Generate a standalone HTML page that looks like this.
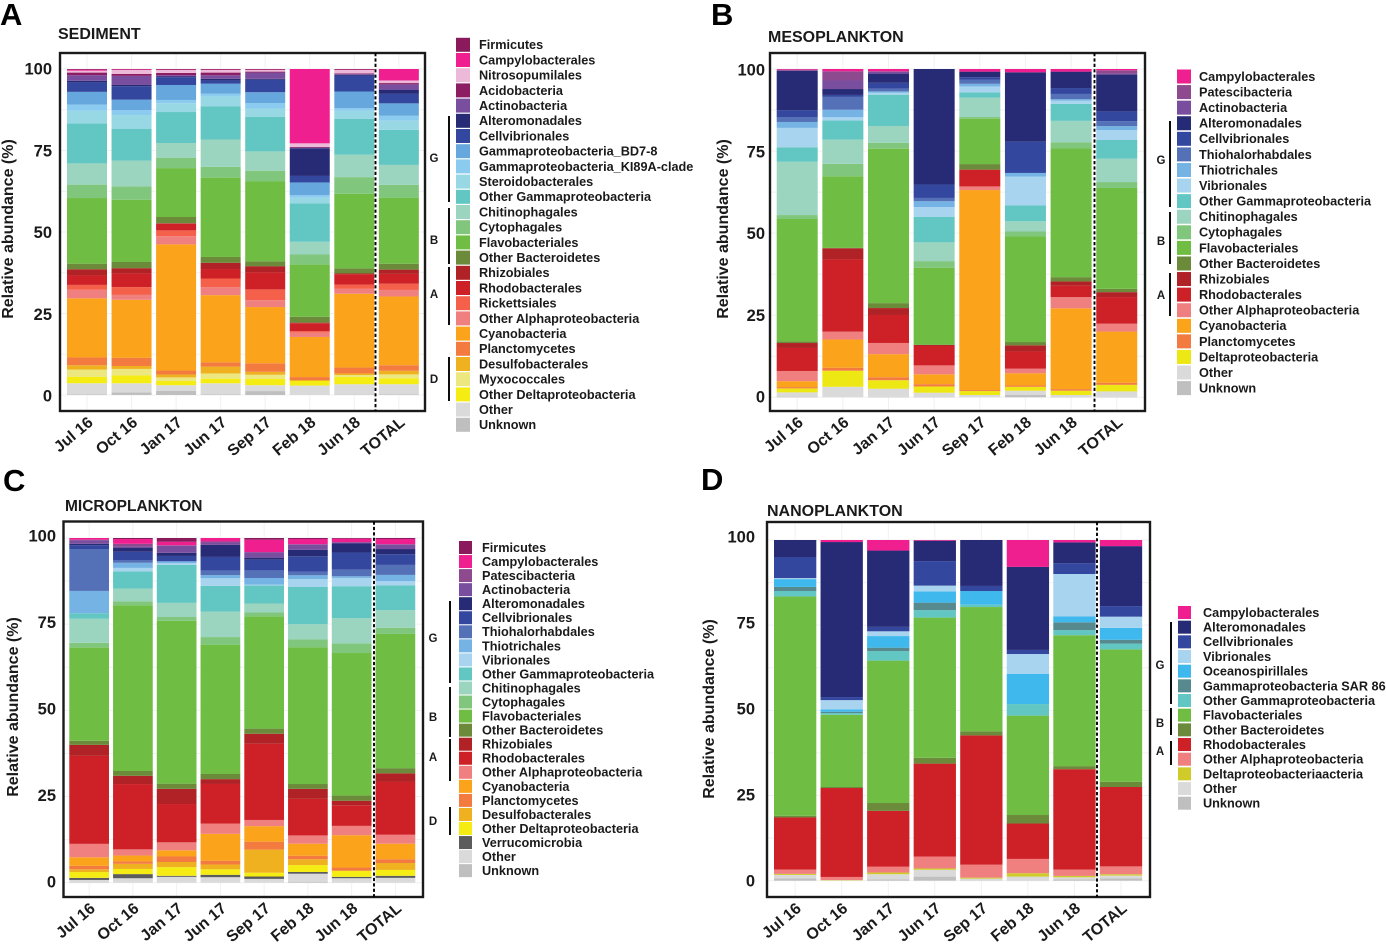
<!DOCTYPE html>
<html lang="en">
<head>
<meta charset="utf-8">
<title>Relative abundance of bacterial taxa</title>
<style>
html,body{margin:0;padding:0;background:#fff;}
#figure{display:block;width:1386px;height:946px;font-family:"Liberation Sans",Arial,sans-serif;}
text{font-family:"Liberation Sans",Arial,sans-serif;font-weight:bold;fill:#1a1a1a;}
.panel-letter{font-size:31px;fill:#000;}
.panel-title{font-size:16px;}
.axis-title{font-size:16px;}
.y-tick{font-size:16.5px;}
.x-tick{font-size:15.9px;}
.legend-label{font-size:12.7px;}
.group-label{font-size:11.5px;}
</style>
</head>
<body>
<svg id="figure" xmlns="http://www.w3.org/2000/svg" width="1386" height="946" viewBox="0 0 1386 946">
  <rect x="0" y="0" width="1386" height="946" fill="#fff"/>
  <text class="panel-letter" x="0" y="25">A</text>
  <text class="panel-letter" x="711" y="25">B</text>
  <text class="panel-letter" x="3" y="491">C</text>
  <text class="panel-letter" x="701" y="490">D</text>
  <text class="panel-title" x="58" y="39">SEDIMENT</text>
  <text class="panel-title" x="768" y="42">MESOPLANKTON</text>
  <text class="panel-title" style="font-size:15.5px" x="65" y="511">MICROPLANKTON</text>
  <text class="panel-title" x="767" y="516">NANOPLANKTON</text>
  <text class="axis-title" text-anchor="middle" transform="translate(13,229) rotate(-90)">Relative abundance (%)</text>
  <text class="axis-title" text-anchor="middle" transform="translate(728,229) rotate(-90)">Relative abundance (%)</text>
  <text class="axis-title" text-anchor="middle" transform="translate(18,707) rotate(-90)">Relative abundance (%)</text>
  <text class="axis-title" text-anchor="middle" transform="translate(714,709) rotate(-90)">Relative abundance (%)</text>
  <g id="charts"></g>
</svg>
<script>
// ---------- shared data ----------
const categories = ["Jul 16","Oct 16","Jan 17","Jun 17","Sep 17","Feb 18","Jun 18","TOTAL"];
const yTickValues = [0,25,50,75,100];
const yGridValues = [0,12.5,25,37.5,50,62.5,75,87.5,100];

// ---------- SEDIMENT (stack order: bottom to top) ----------
const sedimentTaxa = ["Unknown","Other","Other Deltaproteobacteria","Myxococcales","Desulfobacterales","Planctomycetes","Cyanobacteria","Other Alphaproteobacteria","Rickettsiales","Rhodobacterales","Rhizobiales","Other Bacteroidetes","Flavobacteriales","Cytophagales","Chitinophagales","Other Gammaproteobacteria","Steroidobacterales","Gammaproteobacteria_KI89A-clade","Gammaproteobacteria_BD7-8","Cellvibrionales","Alteromonadales","Actinobacteria","Acidobacteria","Nitrosopumilales","Campylobacterales","Firmicutes"];
const sedimentJul16 = [0.2,3.4,2.0,2.2,1.3,2.4,18.1,2.6,1.5,2.9,1.9,1.7,20.1,4.1,6.5,12.2,3.9,1.9,3.9,2.9,0.5,1.7,0.8,0.6,0.3,0.2];
const sedimentOct16 = [0.8,2.8,2.4,2.0,0.9,2.5,17.8,1.5,2.4,4.2,1.6,1.9,19.1,4.1,7.9,9.7,4.3,1.5,3.2,4.1,0.4,2.8,0.6,1.2,0.2,0.1];
const sedimentJan17 = [1.3,1.7,1.3,1.1,0.9,1.2,38.7,2.5,1.8,2.0,0.2,1.9,15.0,3.2,4.5,9.5,2.7,1.0,4.6,2.4,0.2,0.4,0.7,0.9,0.1,0.2];
const sedimentJun17 = [0.2,3.4,1.4,1.6,2.1,1.3,20.6,2.4,2.7,2.9,1.9,1.8,24.3,3.3,8.4,10.2,3.0,0.8,3.1,1.0,0.5,1.1,0.8,0.8,0.1,0.2];
const sedimentSep17 = [1.2,1.8,1.9,1.3,0.9,2.6,17.2,2.1,3.3,5.2,1.9,1.5,24.4,3.3,5.9,10.6,2.5,1.7,3.3,3.8,0.3,1.9,0.3,0.5,0.1,0.2];
const sedimentFeb18 = [0,2.9,1.4,0,0.3,0.9,12.3,1.3,0.5,2.4,0.2,1.8,16.0,3.1,3.9,11.8,1.7,0.8,3.9,2.0,8.5,0.2,0.2,1.1,22.8,0];
const sedimentJun18 = [0.1,3.2,2.2,0.6,0.5,1.8,22.6,1.5,1.3,3.2,0.2,1.6,22.8,5.1,6.9,10.9,2.5,0.8,5.1,4.8,0.3,0.3,0.2,1.0,0.1,0.2];
const sedimentTotal = [0.2,3.1,1.8,1.2,1.1,1.7,21.0,2.0,1.9,3.0,1.3,1.8,20.2,3.9,6.1,10.7,2.8,1.5,3.8,2.9,1.3,1.6,0.4,0.8,3.5,0];

// ---------- MESOPLANKTON ----------
const mesoTaxa = ["Unknown","Other","Deltaproteobacteria","Planctomycetes","Cyanobacteria","Other Alphaproteobacteria","Rhodobacterales","Rhizobiales","Other Bacteroidetes","Flavobacteriales","Cytophagales","Chitinophagales","Other Gammaproteobacteria","Vibrionales","Thiotrichales","Thiohalorhabdales","Cellvibrionales","Alteromonadales","Actinobacteria","Patescibacteria","Campylobacterales"];
const mesoJul16 = [0.2,1.3,1.2,0.4,1.8,3.1,7.0,1.5,0.5,37.2,1.2,16.2,4.4,5.9,1.8,1.4,2.2,11.9,0.1,0.3,0.2];
const mesoOct16 = [0,3.2,4.9,0.9,8.6,2.4,22.0,3.4,0.1,21.8,3.8,7.4,5.8,1.0,2.3,3.9,0.6,1.8,2.6,2.8,0.7];
const mesoJan17 = [0.1,2.5,2.6,0.9,7.0,3.4,8.5,2.1,1.5,46.9,1.8,5.1,9.5,0.6,0.4,0.8,1.8,2.8,0.5,0.2,0.7];
const mesoJun17 = [0.1,1.3,1.9,0.7,3.0,2.7,5.9,0.3,0.1,23.4,2.0,5.7,7.8,2.9,1.8,1.0,4.1,35.1,0,0,0];
const mesoSep17 = [0,0.7,1.2,0.3,60.8,1.1,5.1,0,1.7,13.8,0.5,5.9,1.6,1.8,0.8,1.2,0.8,1.7,0,0,0.8];
const mesoFeb18 = [0.7,1.3,1.2,0.4,3.7,1.4,5.2,1.9,1.0,32.1,1.5,3.1,4.8,8.8,1.1,0,9.5,21.1,0,0,1.0];
const mesoJun18 = [0.1,0.6,1.3,0.5,24.6,3.4,3.5,1.3,1.3,39.2,1.9,6.5,5.2,1.0,0.4,1.6,1.8,5.0,0,0,0.8];
const mesoTotal = [0.1,1.7,2.0,0.6,15.6,2.4,8.1,1.5,1.0,30.7,1.8,7.1,5.7,3.0,1.2,1.5,3.0,11.2,0.3,1.0,0.4];

// ---------- MICROPLANKTON ----------
const microTaxa = ["Unknown","Other","Verrucomicrobia","Other Deltaproteobacteria","Desulfobacterales","Planctomycetes","Cyanobacteria","Other Alphaproteobacteria","Rhodobacterales","Rhizobiales","Other Bacteroidetes","Flavobacteriales","Cytophagales","Chitinophagales","Other Gammaproteobacteria","Vibrionales","Thiotrichales","Thiohalorhabdales","Cellvibrionales","Alteromonadales","Actinobacteria","Patescibacteria","Campylobacterales","Firmicutes"];
const microJul16 = [0.1,0.7,0.6,1.7,0.8,1.0,2.5,3.9,25.6,3.2,1.2,27.1,1.4,7.0,1.6,0,6.5,12.2,1.1,0.4,1.0,0.2,0.5,0];
const microOct16 = [0,1.3,1.2,1.5,1.5,0.7,1.7,1.8,19.0,2.4,1.4,48.2,1.2,3.7,5.0,1.0,1.5,0.8,2.4,1.2,0.3,0.8,1.4,0.3];
const microJan17 = [0,1.7,0.3,2.5,1.5,1.6,1.8,2.3,11.1,4.4,1.5,47.2,1.1,4.1,11.0,0.5,0.5,0.1,1.5,0.9,2.0,0.2,1.0,1.1];
const microJun17 = [0,1.6,0.7,1.6,1.4,1.1,7.8,3.0,11.5,1.4,1.5,37.6,2.2,7.4,7.5,2.2,0.9,1.3,4.0,3.5,0.7,0.3,1.0,0];
const microSep17 = [0,1.1,0.7,1.1,6.7,2.3,4.5,1.8,22.1,2.9,1.5,32.5,1.2,2.6,5.2,0.3,1.9,2.2,3.1,0.6,1.6,0,3.6,0.5];
const microFeb18 = [0.3,2.3,0.5,2.0,1.7,1.0,3.5,2.4,10.6,2.9,1.4,39.6,2.3,4.4,10.8,2.3,1.1,1.0,4.5,1.9,1.5,0.1,1.5,0.3];
const microJun18 = [0,1.3,0.4,1.7,0.1,0.9,9.4,2.7,6.0,1.3,1.5,41.4,2.8,7.3,9.3,2.4,0.5,1.9,5.0,2.6,0.3,0.1,1.0,0.2];
const microTotal = [0,1.4,0.6,1.7,2.0,1.1,4.5,2.6,15.3,2.5,1.5,38.9,1.8,5.1,7.2,1.2,1.8,2.9,3.1,1.5,1.3,0.1,1.5,0.3];

// ---------- NANOPLANKTON ----------
const nanoTaxa = ["Unknown","Other","Deltaproteobacteriaacteria","Other Alphaproteobacteria","Rhodobacterales","Other Bacteroidetes","Flavobacteriales","Other Gammaproteobacteria","Gammaproteobacteria SAR 86","Oceanospirillales","Vibrionales","Cellvibrionales","Alteromonadales","Campylobacterales"];
const nanoJul16 = [0.7,1.0,0.3,1.3,15.3,0.5,64.5,1.6,1.2,2.3,0.3,6.2,5.0,0];
const nanoOct16 = [0,0.1,0.1,0.9,26.1,0.3,21.2,0.5,0.4,0.7,2.7,0.9,45.5,0.6];
const nanoJan17 = [0.4,1.5,0.5,1.7,16.4,2.3,41.8,2.8,1.0,3.4,1.4,1.3,22.4,3.1];
const nanoJun17 = [1.2,2.0,0.4,3.5,27.3,1.7,41.2,2.2,2.2,3.3,1.7,7.2,6.0,0.2];
const nanoSep17 = [0.1,0.5,0.3,3.8,38.0,1.2,36.5,0.7,0,4.0,0,1.5,13.5,0];
const nanoFeb18 = [0.1,1.1,1.0,4.2,10.4,2.5,29.2,3.4,0,8.9,5.8,1.2,24.4,7.9];
const nanoJun18 = [0.4,0.6,0.4,1.9,29.5,0.9,38.5,1.5,2.3,1.7,12.5,3.2,6.1,0.7];
const nanoTotal = [0.7,0.8,0.4,2.3,23.3,1.5,38.9,1.7,1.1,3.5,3.3,3.1,17.6,1.8];

// ---------- taxon colours ----------
const taxonColors = {
  "Firmicutes":"#8a1a5c","Campylobacterales":"#ef1f8f","Nitrosopumilales":"#ecb9d8","Acidobacteria":"#8c1d62",
  "Actinobacteria":"#7a4e9f","Patescibacteria":"#8d4a8f","Alteromonadales":"#272a75","Cellvibrionales":"#33479f",
  "Gammaproteobacteria_BD7-8":"#66a8dd","Gammaproteobacteria_KI89A-clade":"#8ccbf0","Steroidobacterales":"#97d8e4",
  "Thiohalorhabdales":"#5470b7","Thiotrichales":"#74b3e3","Vibrionales":"#a8d4f0","Oceanospirillales":"#3fb9ed",
  "Gammaproteobacteria SAR 86":"#568a8e","Other Gammaproteobacteria":"#62c6c2","Chitinophagales":"#9cd5bf",
  "Cytophagales":"#80c67c","Flavobacteriales":"#70bd44","Other Bacteroidetes":"#6b8a3a","Rhizobiales":"#b02225",
  "Rhodobacterales":"#ce2027","Rickettsiales":"#f4604a","Other Alphaproteobacteria":"#f08080","Cyanobacteria":"#fba31a",
  "Planctomycetes":"#f37b40","Desulfobacterales":"#efb11f","Myxococcales":"#ece77f","Other Deltaproteobacteria":"#f5ec14",
  "Deltaproteobacteria":"#ede713","Deltaproteobacteriaacteria":"#cfcc2a","Verrucomicrobia":"#5c5c5c","Other":"#dadada","Unknown":"#bfbfbf"
};

// ---------- panel layout (geometry only) ----------
const panels = [
  {key:"sediment",taxa:sedimentTaxa,rows:[sedimentJul16,sedimentOct16,sedimentJan17,sedimentJun17,sedimentSep17,sedimentFeb18,sedimentJun18,sedimentTotal],
   frame:{l:60,r:425,t:53,b:411},y0:395,y100:69,labelY0:396,labelY100:69,barStart:67,barW:40,pitch:44.55,dash:375.5,tickRight:52,
   legend:{sx:456,tx:479,first:44.8,pitch:15.2,sw:14,sh:14},
   groups:[["G",449,116,202,434,158],["B",449,208,264,434,240],["A",449,267,325,434,294],["D",449,357,401,434,379]]},
  {key:"mesoplankton",taxa:mesoTaxa,rows:[mesoJul16,mesoOct16,mesoJan17,mesoJun17,mesoSep17,mesoFeb18,mesoJun18,mesoTotal],
   frame:{l:770,r:1145,t:53,b:411},y0:397.3,y100:69,labelY0:397,labelY100:70,barStart:776.7,barW:41,pitch:45.65,dash:1094.5,tickRight:765,
   legend:{sx:1177,tx:1199,first:76.5,pitch:15.58,sw:14,sh:14},
   groups:[["G",1170,121,207,1161,160],["B",1170,212,264,1161,241],["A",1170,273,316,1161,295]]},
  {key:"microplankton",taxa:microTaxa,rows:[microJul16,microOct16,microJan17,microJun17,microSep17,microFeb18,microJun18,microTotal],
   frame:{l:63.5,r:423,t:521.5,b:897},y0:882.7,y100:538,labelY0:882,labelY100:536,barStart:69.3,barW:39.7,pitch:43.75,dash:374,tickRight:56,
   legend:{sx:459,tx:482,first:547.5,pitch:14.05,sw:13,sh:13},
   groups:[["G",450,601,683,433,638],["B",450,687,737,433,717],["A",450,739,781,433,757],["D",450,807,835,433,821]]},
  {key:"nanoplankton",taxa:nanoTaxa,rows:[nanoJul16,nanoOct16,nanoJan17,nanoJun17,nanoSep17,nanoFeb18,nanoJun18,nanoTotal],
   frame:{l:767,r:1150,t:522,b:897},y0:880.7,y100:540,labelY0:881,labelY100:537,barStart:774,barW:42.3,pitch:46.55,dash:1097,tickRight:755,
   legend:{sx:1178,tx:1203,first:612.5,pitch:14.67,sw:13,sh:13},
   groups:[["G",1171,622,704,1160,665],["B",1171,708,735,1160,723],["A",1171,741,765,1160,751]]}
];

const SVG_NS = "http://www.w3.org/2000/svg";
const root = document.getElementById("charts");

function make(parent, tag, attrs, text) {
  const el = document.createElementNS(SVG_NS, tag);
  for (const k in attrs) el.setAttribute(k, attrs[k]);
  if (text !== undefined) el.textContent = text;
  parent.appendChild(el);
  return el;
}
function slug(s) {
  return s.toLowerCase().replace(/[^a-z0-9]+/g, "-").replace(/^-|-$/g, "");
}

panels.forEach(function (p) {
  const yScale = function (v) { return p.y0 + (p.y100 - p.y0) * v / 100; };
  const labelScale = function (v) { return p.labelY0 + (p.labelY100 - p.labelY0) * v / 100; };
  const xScale = function (i) { return p.barStart + p.pitch * i; };
  const g = make(root, "g", {});
  
  

  // grid
  yGridValues.forEach(function (v) {
    const line = make(g, "line", {x1:p.frame.l, x2:p.frame.r, y1:yScale(v), y2:yScale(v), stroke:"#f1f1f1", "stroke-width":1});
    
    
  });
  categories.forEach(function (c, i) {
    const cx = xScale(i) + p.barW / 2;
    const line = make(g, "line", {x1:cx, x2:cx, y1:p.frame.t, y2:p.frame.b, stroke:"#f1f1f1", "stroke-width":1});
    
    
  });

  // stacked bars
  p.rows.forEach(function (row, i) {
    const sum = row.reduce(function (a, b) { return a + b; }, 0);
    const barGroup = make(g, "g", {});
    
    
    let cum = 0;
    row.forEach(function (value, j) {
      if (value <= 0) return;
      const norm = value / sum * 100;
      const yTop = yScale(cum + norm);
      const yBottom = yScale(cum);
      const seg = make(barGroup, "rect", {x:xScale(i), y:yTop, width:p.barW, height:Math.max(yBottom - yTop, 0.3), fill:taxonColors[p.taxa[j]]});
      
      
      cum += norm;
    });
  });

  // frame
  const frame = make(g, "rect", {x:p.frame.l, y:p.frame.t, width:p.frame.r - p.frame.l, height:p.frame.b - p.frame.t, fill:"none", stroke:"#1a1a1a", "stroke-width":2.4});
  
  

  // dashed separator
  const dash = make(g, "line", {x1:p.dash, x2:p.dash, y1:p.frame.t, y2:p.frame.b, stroke:"#000", "stroke-width":1.9, "stroke-dasharray":"3.2 2.2"});
  
  

  // y ticks
  yTickValues.forEach(function (v) {
    const t = make(g, "text", {class:"y-tick", x:p.tickRight, y:labelScale(v) + 5.5, "text-anchor":"end"}, String(v));
    
    
  });

  // x ticks
  categories.forEach(function (c, i) {
    const ax = xScale(i) + p.barW / 2 + 7;
    const ay = p.frame.b + 13;
    const t = make(g, "text", {class:"x-tick", "text-anchor":"end", transform:"translate(" + ax + "," + ay + ") rotate(-40)"}, c);
    
    
  });

  // legend (top to bottom = reverse stack order)
  const legend = make(g, "g", {});
  
  
  const order = p.taxa.slice().reverse();
  order.forEach(function (name, i) {
    const yc = p.legend.first + p.legend.pitch * i;
    const entry = make(legend, "g", {});
    
    
    const sw = make(entry, "rect", {x:p.legend.sx, y:yc - p.legend.sh / 2, width:p.legend.sw, height:p.legend.sh, fill:taxonColors[name]});
    
    
    const t = make(entry, "text", {class:"legend-label", x:p.legend.tx, y:yc + 4.4}, name);
    
    
  });

  // taxon group brackets
  p.groups.forEach(function (gr) {
    const line = make(legend, "line", {x1:gr[1], x2:gr[1], y1:gr[2], y2:gr[3], stroke:"#000", "stroke-width":1.9});
    
    
    const t = make(legend, "text", {class:"group-label", x:gr[4], y:gr[5] + 4, "text-anchor":"middle"}, gr[0]);
    
    
  });
});
</script>
</body>
</html>
